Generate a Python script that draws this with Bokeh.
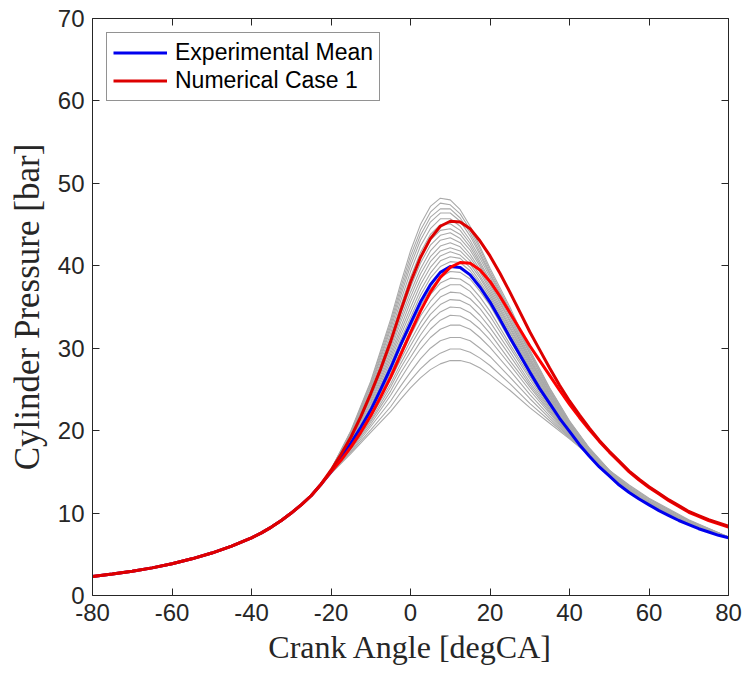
from bokeh.plotting import figure
from bokeh.models import (LinearAxis, Range1d, FixedTicker, CustomJSTickFormatter,
                          Legend, LegendItem)
from bokeh.embed import file_html
from bokeh.resources import INLINE

# ---------------- data ----------------
x_ticks = [-80, -60, -40, -20, 0, 20, 40, 60, 80]
y_ticks = [0, 10, 20, 30, 40, 50, 60, 70]

# compression stroke, shared by all cycles (crank angle deg, pressure bar)
comp_x = [-80, -75, -70, -65, -60, -55, -50, -45, -40, -37.5, -35, -32.5, -30, -27.5, -25, -22.5]
comp_p = [2.3, 2.6, 2.95, 3.35, 3.85, 4.45, 5.15, 6.0, 7.0, 7.6, 8.3, 9.1, 10.0, 11.0, 12.1, 13.5]

# combustion part, thick curves (finer crank-angle steps)
fine_x = [-20, -17.5, -15, -12.5, -10, -7.5, -5, -2.5, 0, 2.5, 5, 7.5, 10, 12.5, 15, 17.5, 20,
          22.5, 25, 27.5, 30, 32.5, 35, 37.5, 40, 42.5, 45, 47.5, 50, 52.5, 55, 57.5, 60,
          62.5, 65, 67.5, 70, 72.5, 75, 77.5, 80]
exp_mean = [15.0, 16.7, 18.5, 20.4, 22.5, 25.0, 27.6, 30.4, 33.0, 35.6, 37.7, 39.2, 39.9, 39.8, 38.9, 37.4, 35.6,
            33.5, 31.3, 29.2, 27.1, 25.1, 23.3, 21.5, 19.9, 18.3, 16.9, 15.6, 14.5, 13.4, 12.5, 11.7, 11.0,
            10.3, 9.7, 9.1, 8.6, 8.1, 7.7, 7.3, 7.0]
num_case1_a = [15.2, 17.1, 19.2, 21.7, 24.5, 27.5, 30.8, 34.5, 38.0, 41.0, 43.3, 44.8, 45.4, 45.3, 44.5, 43.0, 41.2,
               39.1, 36.8, 34.4, 32.0, 29.8, 27.6, 25.5, 23.6, 21.9, 20.3, 18.8, 17.5, 16.3, 15.1, 14.1, 13.2,
               12.4, 11.6, 10.9, 10.2, 9.7, 9.2, 8.8, 8.4]
num_case1_b = [15.0, 16.4, 18.0, 19.8, 21.8, 24.1, 26.5, 29.2, 31.9, 34.5, 36.8, 38.6, 39.8, 40.4, 40.3, 39.5, 38.1,
               36.3, 34.3, 32.3, 30.3, 28.5, 26.7, 24.9, 23.2, 21.6, 20.1, 18.7, 17.4, 16.2, 15.0, 14.0, 13.1,
               12.3, 11.5, 10.8, 10.1, 9.6, 9.1, 8.7, 8.3]

# individual experimental cycles
comb_x = [-20, -15, -10, -5, -2.5, 0, 2.5, 5, 7.5, 10, 12.5, 15, 17.5, 20,
          25, 30, 35, 40, 45, 50, 55, 60, 70, 80]
cyc01 = [15.3, 20.0, 26.0, 33.5, 37.8, 41.8, 45.0, 47.2, 48.2, 48.0, 46.8, 44.8, 42.3, 39.7, 35.0, 29.8, 25.2, 21.2, 17.9, 15.2, 13.0, 11.3, 8.8, 7.1]
cyc02 = [15.3, 19.9, 25.8, 33.1, 37.3, 41.2, 44.3, 46.5, 47.6, 47.4, 46.3, 44.4, 42.0, 39.4, 34.7, 29.6, 25.1, 21.1, 17.8, 15.2, 13.0, 11.3, 8.8, 7.1]
cyc03 = [15.3, 19.8, 25.5, 32.7, 36.8, 40.6, 43.7, 45.9, 46.9, 46.9, 45.8, 44.0, 41.6, 39.1, 34.5, 29.4, 24.9, 21.0, 17.8, 15.1, 12.9, 11.3, 8.8, 7.1]
cyc04 = [15.2, 19.7, 25.3, 32.3, 36.3, 40.0, 43.1, 45.3, 46.4, 46.4, 45.4, 43.6, 41.3, 38.9, 34.3, 29.3, 24.8, 20.9, 17.7, 15.1, 12.9, 11.2, 8.8, 7.1]
cyc05 = [15.2, 19.6, 25.0, 31.8, 35.7, 39.3, 42.4, 44.5, 45.7, 45.7, 44.8, 43.1, 40.9, 38.6, 34.0, 29.0, 24.7, 20.8, 17.6, 15.0, 12.9, 11.2, 8.7, 7.1]
cyc06 = [15.2, 19.5, 24.7, 31.4, 35.1, 38.6, 41.6, 43.8, 45.0, 45.1, 44.3, 42.7, 40.5, 38.2, 33.7, 28.8, 24.5, 20.7, 17.5, 14.9, 12.8, 11.2, 8.7, 7.1]
cyc07 = [15.2, 19.4, 24.5, 31.0, 34.6, 38.0, 41.0, 43.1, 44.3, 44.5, 43.8, 42.3, 40.2, 37.9, 33.4, 28.6, 24.4, 20.6, 17.5, 14.9, 12.8, 11.2, 8.7, 7.1]
cyc08 = [15.2, 19.3, 24.3, 30.6, 34.1, 37.4, 40.3, 42.5, 43.7, 44.0, 43.3, 41.9, 39.9, 37.7, 33.2, 28.5, 24.3, 20.6, 17.4, 14.9, 12.8, 11.2, 8.7, 7.1]
cyc09 = [15.1, 19.1, 24.0, 30.1, 33.6, 36.8, 39.6, 41.8, 43.1, 43.4, 42.8, 41.4, 39.5, 37.4, 32.9, 28.3, 24.1, 20.5, 17.3, 14.8, 12.7, 11.1, 8.7, 7.0]
cyc10 = [15.1, 19.0, 23.8, 29.7, 33.1, 36.2, 39.0, 41.1, 42.4, 42.8, 42.3, 41.0, 39.2, 37.1, 32.6, 28.1, 24.0, 20.4, 17.3, 14.8, 12.7, 11.1, 8.7, 7.0]
cyc11 = [15.1, 18.9, 23.5, 29.3, 32.5, 35.6, 38.3, 40.5, 41.8, 42.2, 41.8, 40.6, 38.8, 36.8, 32.4, 27.9, 23.9, 20.3, 17.2, 14.7, 12.6, 11.1, 8.7, 7.0]
cyc12 = [15.1, 18.8, 23.3, 28.9, 32.0, 34.9, 37.7, 39.8, 41.2, 41.7, 41.3, 40.2, 38.5, 36.5, 32.1, 27.7, 23.7, 20.2, 17.1, 14.7, 12.6, 11.1, 8.6, 7.0]
cyc13 = [15.0, 18.7, 23.0, 28.5, 31.5, 34.3, 37.0, 39.1, 40.6, 41.1, 40.9, 39.8, 38.1, 36.2, 31.9, 27.5, 23.6, 20.1, 17.1, 14.6, 12.6, 11.0, 8.6, 7.0]
cyc14 = [15.0, 18.6, 22.8, 28.1, 31.0, 33.7, 36.4, 38.5, 39.9, 40.5, 40.4, 39.4, 37.8, 35.9, 31.6, 27.3, 23.5, 20.0, 17.0, 14.6, 12.5, 11.0, 8.6, 7.0]
cyc15 = [15.0, 18.4, 22.4, 27.3, 30.1, 32.6, 35.1, 37.2, 38.6, 39.3, 39.2, 38.4, 36.9, 35.2, 31.0, 26.9, 23.2, 19.9, 16.9, 14.5, 12.5, 11.0, 8.6, 7.0]
cyc16 = [15.0, 18.3, 22.2, 27.0, 29.6, 32.1, 34.5, 36.5, 37.9, 38.5, 38.4, 37.6, 36.2, 34.5, 30.5, 26.6, 23.0, 19.8, 16.9, 14.6, 12.6, 11.1, 8.7, 7.0]
cyc17 = [15.0, 18.3, 22.0, 26.6, 29.1, 31.5, 33.9, 35.7, 37.1, 37.7, 37.7, 36.9, 35.5, 33.9, 30.1, 26.3, 22.8, 19.7, 16.9, 14.6, 12.7, 11.2, 8.7, 7.0]
cyc18 = [14.9, 18.1, 21.8, 26.2, 28.6, 30.9, 33.1, 34.9, 36.2, 36.8, 36.7, 36.0, 34.8, 33.2, 29.6, 25.9, 22.7, 19.7, 16.9, 14.7, 12.7, 11.2, 8.8, 7.0]
cyc19 = [14.9, 18.0, 21.6, 25.7, 28.1, 30.3, 32.4, 34.1, 35.3, 35.9, 35.8, 35.2, 34.0, 32.5, 29.1, 25.6, 22.5, 19.6, 16.9, 14.7, 12.8, 11.3, 8.8, 7.0]
cyc20 = [14.9, 17.9, 21.3, 25.3, 27.6, 29.6, 31.6, 33.3, 34.4, 35.0, 34.9, 34.3, 33.2, 31.8, 28.5, 25.3, 22.3, 19.5, 16.9, 14.8, 12.9, 11.3, 8.9, 7.0]
cyc21 = [14.9, 17.8, 21.1, 24.8, 27.0, 28.9, 30.8, 32.3, 33.4, 34.0, 33.9, 33.3, 32.3, 31.0, 28.0, 24.9, 22.1, 19.4, 17.0, 14.9, 13.0, 11.4, 8.9, 7.1]
cyc22 = [14.9, 17.7, 20.8, 24.3, 26.3, 28.2, 29.9, 31.3, 32.3, 32.8, 32.8, 32.3, 31.3, 30.1, 27.3, 24.4, 21.8, 19.3, 17.0, 14.9, 13.1, 11.5, 9.0, 7.1]
cyc23 = [14.8, 17.5, 20.5, 23.6, 25.4, 27.1, 28.7, 30.0, 30.9, 31.3, 31.3, 30.9, 30.0, 29.0, 26.5, 23.9, 21.5, 19.2, 17.0, 15.0, 13.2, 11.6, 9.1, 7.1]
cyc24 = [14.8, 17.4, 20.1, 22.9, 24.6, 26.1, 27.5, 28.6, 29.4, 29.9, 29.9, 29.5, 28.8, 27.9, 25.7, 23.3, 21.2, 19.1, 17.0, 15.1, 13.3, 11.7, 9.1, 7.1]
cyc25 = [14.8, 17.2, 19.8, 22.3, 23.8, 25.2, 26.4, 27.4, 28.1, 28.5, 28.5, 28.2, 27.6, 26.8, 24.9, 22.8, 20.9, 19.0, 17.0, 15.2, 13.4, 11.8, 9.2, 7.1]

cycles = [cyc01, cyc02, cyc03, cyc04, cyc05, cyc06, cyc07, cyc08, cyc09, cyc10,
          cyc11, cyc12, cyc13, cyc14, cyc15, cyc16, cyc17, cyc18, cyc19, cyc20,
          cyc21, cyc22, cyc23, cyc24, cyc25]

# ---------------- figure ----------------
AX = "#262626"
p = figure(width=747, height=676, x_range=Range1d(-80, 80), y_range=Range1d(0, 70),
           output_backend="svg", toolbar_location=None,
           min_border_left=92, min_border_right=19, min_border_top=18, min_border_bottom=81)
p.grid.visible = False
p.outline_line_color = None
p.background_fill_color = "white"
p.border_fill_color = "white"

for c in cycles:
    p.line(comp_x + comb_x, comp_p + c, line_color="#a9a9a9", line_width=1.1)

blue = p.line(comp_x + fine_x, comp_p + exp_mean, line_color="#0000ee", line_width=3)
red_b = p.line(comp_x + fine_x, comp_p + num_case1_b, line_color="#ff0000", line_width=3)
red_a = p.line(comp_x + fine_x, comp_p + num_case1_a, line_color="#dd0000", line_width=3)

p.add_layout(LinearAxis(), "above")
p.add_layout(LinearAxis(), "right")

for ax in p.xaxis:
    ax.ticker = FixedTicker(ticks=x_ticks)
for ax in p.yaxis:
    ax.ticker = FixedTicker(ticks=y_ticks)

for ax in p.axis:
    ax.axis_line_color = AX
    ax.axis_line_width = 1
    ax.major_tick_line_color = AX
    ax.major_tick_in = 7
    ax.major_tick_out = 0
    ax.minor_tick_line_color = None
    ax.major_label_text_font = "Liberation Sans"
    ax.major_label_text_font_size = "24px"
    ax.major_label_text_color = AX
    ax.major_label_standoff = 8

p.below[0].formatter = CustomJSTickFormatter(code="return tick.toString()")
p.left[0].formatter = CustomJSTickFormatter(code="return tick.toString()")
p.above[0].major_label_text_font_size = "0px"
p.right[0].major_label_text_font_size = "0px"
p.above[0].formatter = CustomJSTickFormatter(code="return ''")
p.right[0].formatter = CustomJSTickFormatter(code="return ''")

p.below[0].axis_label = "Crank Angle [degCA]"
p.left[0].axis_label = "Cylinder Pressure [bar]"
for ax in (p.below[0], p.left[0]):
    ax.axis_label_text_font = "Liberation Serif"
    ax.axis_label_text_font_style = "normal"
    ax.axis_label_text_color = AX
p.below[0].axis_label_text_font_size = "32px"
p.below[0].axis_label_standoff = 5
p.left[0].axis_label_text_font_size = "35px"
p.left[0].axis_label_standoff = 8

legend = Legend(items=[LegendItem(label="Experimental Mean", renderers=[blue]),
                       LegendItem(label="Numerical Case 1", renderers=[red_a])],
                location="top_left")
legend.margin = 14
legend.padding = 6
legend.spacing = 1
legend.glyph_width = 54
legend.glyph_height = 27
legend.label_height = 27
legend.label_standoff = 8
legend.label_text_font = "Liberation Sans"
legend.label_text_font_size = "23px"
legend.label_text_color = "black"
legend.border_line_color = AX
legend.border_line_width = 1
legend.background_fill_color = "white"
legend.background_fill_alpha = 1
p.add_layout(legend)

open("out.html", "w").write(file_html(p, INLINE))
